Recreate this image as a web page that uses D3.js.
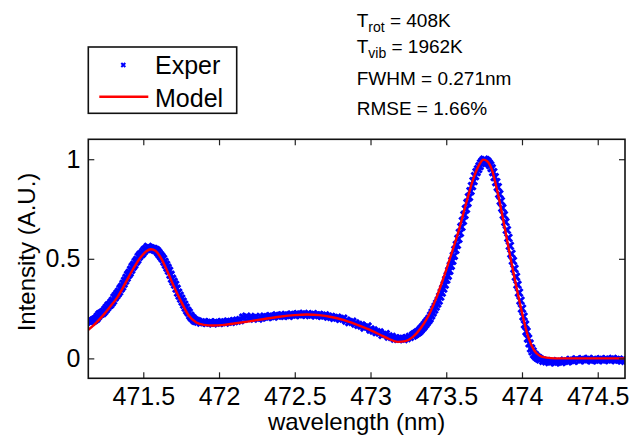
<!DOCTYPE html>
<html>
<head>
<meta charset="utf-8">
<script src="https://cdn.jsdelivr.net/npm/d3@7"></script>
<style>
  body { margin: 0; background: #fff; }
  svg { display: block; font-family: "Liberation Sans", Arial, sans-serif; }
</style>
</head>
<body>
<svg id="chart" width="631" height="438"></svg>
<script>
// ---------------------------
// Band fit: measured spectrum vs model
// ---------------------------

// experimental points [wavelength nm, intensity]
const experPoints = [
  [471.14,0.19],[471.16,0.185],[471.18,0.195],[471.20,0.21],[471.22,0.225],[471.24,0.235],
  [471.26,0.255],[471.28,0.27],[471.30,0.29],[471.32,0.315],[471.34,0.335],[471.36,0.36],
  [471.38,0.39],[471.40,0.42],[471.42,0.445],[471.44,0.47],[471.46,0.495],[471.48,0.52],
  [471.50,0.535],[471.52,0.55],[471.54,0.555],[471.56,0.55],[471.58,0.545],[471.60,0.53],
  [471.62,0.51],[471.64,0.485],[471.66,0.455],[471.68,0.42],[471.70,0.385],[471.72,0.35],
  [471.74,0.315],[471.76,0.285],[471.78,0.255],[471.80,0.23],[471.82,0.205],[471.84,0.19],
  [471.86,0.185],[471.88,0.18],[471.90,0.182],[471.92,0.178],[471.94,0.18],[471.96,0.176],
  [471.98,0.18],[472.00,0.178],[472.02,0.182],[472.04,0.18],[472.06,0.185],[472.08,0.183],
  [472.10,0.187],[472.12,0.19],[472.14,0.192],[472.16,0.205],[472.18,0.21],[472.20,0.2],
  [472.22,0.203],[472.24,0.208],[472.26,0.2],[472.28,0.205],[472.30,0.21],[472.32,0.207],
  [472.34,0.212],[472.36,0.21],[472.38,0.216],[472.40,0.213],[472.42,0.215],[472.44,0.218],
  [472.46,0.214],[472.48,0.22],[472.50,0.218],[472.52,0.222],[472.54,0.219],[472.56,0.223],
  [472.58,0.22],[472.60,0.218],[472.62,0.222],[472.64,0.216],[472.66,0.218],[472.68,0.214],
  [472.70,0.216],[472.72,0.21],[472.74,0.208],[472.76,0.203],[472.78,0.205],[472.80,0.198],
  [472.82,0.2],[472.84,0.19],[472.86,0.182],[472.88,0.184],[472.90,0.175],[472.92,0.168],
  [472.94,0.165],[472.96,0.155],[472.98,0.16],[473.00,0.145],[473.02,0.14],[473.04,0.132],
  [473.06,0.13],[473.08,0.118],[473.10,0.122],[473.12,0.11],[473.14,0.108],[473.16,0.1],
  [473.18,0.098],[473.20,0.1],[473.22,0.097],[473.24,0.102],[473.26,0.108],[473.28,0.115],
  [473.30,0.125],[473.32,0.135],[473.34,0.152],[473.36,0.17],[473.38,0.19],[473.40,0.215],
  [473.42,0.245],[473.44,0.275],[473.46,0.31],[473.48,0.35],[473.50,0.395],[473.52,0.44],
  [473.54,0.49],[473.56,0.545],[473.58,0.6],[473.60,0.66],[473.62,0.72],[473.64,0.78],
  [473.66,0.84],[473.68,0.89],[473.70,0.935],[473.72,0.965],[473.74,0.99],[473.76,0.995],
  [473.78,0.98],[473.80,0.955],[473.82,0.91],[473.84,0.86],[473.86,0.79],[473.88,0.72],
  [473.90,0.645],[473.92,0.565],[473.94,0.49],[473.96,0.41],[473.98,0.33],[474.00,0.25],
  [474.02,0.17],[474.04,0.1],[474.06,0.05],[474.08,0.02],[474.10,0.005],[474.12,-0.005],
  [474.14,-0.012],[474.16,-0.015],[474.18,-0.018],[474.20,-0.014],[474.22,-0.02],[474.24,-0.016],
  [474.26,-0.018],[474.28,-0.012],[474.30,-0.015],[474.32,-0.008],[474.34,-0.012],[474.36,-0.005],
  [474.38,-0.01],[474.40,-0.004],[474.42,-0.008],[474.44,-0.003],[474.46,-0.01],[474.48,-0.006],
  [474.50,-0.008],[474.52,-0.004],[474.54,-0.009],[474.56,-0.005],[474.58,-0.007],[474.60,-0.003],
  [474.62,-0.008],[474.64,-0.006],[474.66,-0.01],[474.68,-0.012],
  // finer sampling across the two peaks
  [471.15,0.186],[471.17,0.19],[471.19,0.2],[471.21,0.22],[471.23,0.228],[471.25,0.245],
  [471.27,0.265],[471.29,0.28],[471.31,0.305],[471.33,0.325],[471.35,0.35],[471.37,0.375],
  [471.39,0.405],[471.41,0.43],[471.43,0.46],[471.45,0.485],[471.47,0.51],[471.49,0.525],
  [471.51,0.545],[471.53,0.56],[471.55,0.552],[471.57,0.548],[471.59,0.54],[471.61,0.52],
  [471.63,0.5],[471.65,0.47],[471.67,0.44],[471.69,0.4],[471.71,0.37],[471.73,0.33],
  [471.75,0.3],[471.77,0.27],[471.79,0.24],[471.81,0.215],[471.83,0.198],[471.85,0.188],
  [473.29,0.12],[473.31,0.13],[473.33,0.143],[473.35,0.16],[473.37,0.18],[473.39,0.2],
  [473.41,0.23],[473.43,0.26],[473.45,0.29],[473.47,0.33],[473.49,0.37],[473.51,0.415],
  [473.53,0.465],[473.55,0.515],[473.57,0.57],[473.59,0.63],[473.61,0.69],[473.63,0.75],
  [473.65,0.81],[473.67,0.865],[473.69,0.915],[473.71,0.95],[473.73,0.98],[473.75,0.998],
  [473.77,0.99],[473.79,0.97],[473.81,0.935],[473.83,0.885],[473.85,0.825],[473.87,0.755],
  [473.89,0.685],[473.91,0.605],[473.93,0.525],[473.95,0.45],[473.97,0.37],[473.99,0.29],
  [474.01,0.21],[474.03,0.135],[474.05,0.075],[474.07,0.035],[474.09,0.012],[474.11,0.0]
];

// model curve [wavelength nm, intensity]
const modelPoints = [
  [471.137,0.143],[471.18,0.172],[471.23,0.212],[471.28,0.258],[471.33,0.308],[471.38,0.375],
  [471.43,0.445],[471.48,0.505],[471.52,0.538],[471.55,0.548],[471.58,0.54],[471.62,0.50],
  [471.66,0.435],[471.70,0.365],[471.75,0.285],[471.80,0.215],[471.85,0.18],[471.90,0.168],
  [471.96,0.165],[472.02,0.167],[472.10,0.175],[472.20,0.186],[472.30,0.198],[472.40,0.209],
  [472.50,0.217],[472.58,0.22],[472.66,0.217],[472.74,0.208],[472.82,0.193],[472.90,0.172],
  [472.98,0.148],[473.06,0.12],[473.12,0.098],[473.18,0.083],[473.23,0.087],[473.28,0.108],
  [473.33,0.15],[473.38,0.21],[473.43,0.295],[473.48,0.40],[473.53,0.515],[473.58,0.635],
  [473.63,0.775],[473.68,0.905],[473.72,0.975],[473.745,0.998],[473.77,0.99],[473.80,0.95],
  [473.84,0.83],[473.88,0.68],[473.92,0.52],[473.96,0.37],[474.00,0.23],[474.04,0.11],
  [474.08,0.04],[474.12,0.012],[474.16,0.004],[474.22,0.0],[474.40,0.0],[474.68,0.0]
];

const xTicks = [471.5, 472, 472.5, 473, 473.5, 474, 474.5];
const xTickLabels = ["471.5", "472", "472.5", "473", "473.5", "474", "474.5"];
const yTicks = [0, 0.5, 1];
const yTickLabels = ["0", "0.5", "1"];
const legendLabels = ["Exper", "Model"];
const fitResults = [
  { name: "T", sub: "rot", value: " = 408K" },
  { name: "T", sub: "vib", value: " = 1962K" },
  { name: "FWHM = 0.271nm", sub: null, value: "" },
  { name: "RMSE = 1.66%", sub: null, value: "" }
];

const svg = d3.select("#chart");
const plot = { left: 88.3, right: 625, top: 139.3, bottom: 378.3 };

const x = d3.scaleLinear().domain([471.137, 474.68]).range([plot.left, plot.right]);
const y = d3.scaleLinear().domain([-0.1, 1.1]).range([plot.bottom, plot.top]);

const g = svg.append("g");

// data first, box & ticks on top
svg.append("clipPath").attr("id", "clip")
  .append("rect")
  .attr("x", plot.left).attr("y", plot.top)
  .attr("width", plot.right - plot.left).attr("height", plot.bottom - plot.top);

const marks = g.append("g").attr("clip-path", "url(#clip)");
const ms = 3.6;
marks.append("g")
  .selectAll("path")
  .data(experPoints)
  .join("path")
  .attr("d", d => {
    const px = x(d[0]), py = y(d[1]);
    return `M${px - ms},${py - ms}L${px + ms},${py + ms}M${px - ms},${py + ms}L${px + ms},${py - ms}`;
  })
  .attr("stroke", "#0000ff")
  .attr("stroke-width", 3)
  .attr("fill", "none");

marks.append("path")
  .datum(modelPoints)
  .attr("d", d3.line().x(d => x(d[0])).y(d => y(d[1])).curve(d3.curveMonotoneX))
  .attr("fill", "none")
  .attr("stroke", "#ff0000")
  .attr("stroke-width", 2.4);

// axes (inward ticks on all four sides, MATLAB box)
const fontSize = 25;
const bottomAxis = g.append("g")
  .attr("transform", `translate(0,${plot.bottom})`)
  .call(d3.axisBottom(x).tickValues(xTicks).tickSizeInner(-6).tickSizeOuter(0)
    .tickFormat((d, i) => xTickLabels[i]));
bottomAxis.selectAll("text").attr("y", 26.5).attr("dy", 0);

g.append("g")
  .attr("transform", `translate(0,${plot.top})`)
  .call(d3.axisTop(x).tickValues(xTicks).tickSizeInner(-6).tickSizeOuter(0).tickFormat(""));

g.append("g")
  .attr("transform", `translate(${plot.left},0)`)
  .call(d3.axisLeft(y).tickValues(yTicks).tickSizeInner(-6).tickSizeOuter(0).tickPadding(8)
    .tickFormat((d, i) => yTickLabels[i]));

g.append("g")
  .attr("transform", `translate(${plot.right},0)`)
  .call(d3.axisRight(y).tickValues(yTicks).tickSizeInner(-6).tickSizeOuter(0).tickFormat(""));

g.selectAll(".domain").remove();
g.selectAll(".tick line").attr("stroke", "#222").attr("stroke-width", 1.2);
g.selectAll(".tick text")
  .attr("font-size", fontSize)
  .attr("font-family", "Liberation Sans, Arial, sans-serif")
  .attr("fill", "#000");

g.append("rect")
  .attr("x", plot.left).attr("y", plot.top)
  .attr("width", plot.right - plot.left).attr("height", plot.bottom - plot.top)
  .attr("fill", "none").attr("stroke", "#111").attr("stroke-width", 1.6);

// axis titles
svg.append("text")
  .attr("x", (plot.left + plot.right) / 2).attr("y", 430)
  .attr("text-anchor", "middle").attr("font-size", 24)
  .text("wavelength (nm)");

svg.append("text")
  .attr("transform", "translate(35,252) rotate(-90)")
  .attr("text-anchor", "middle").attr("font-size", 24)
  .text("Intensity (A.U.)");

// legend
const legend = svg.append("g");
legend.append("rect")
  .attr("x", 88.3).attr("y", 47).attr("width", 148.4).attr("height", 66.3)
  .attr("fill", "#fff").attr("stroke", "#111").attr("stroke-width", 1.6);
legend.append("path")
  .attr("d", `M${123.3 - 2},${65 - 2}L${123.3 + 2},${65 + 2}M${123.3 - 2},${65 + 2}L${123.3 + 2},${65 - 2}`)
  .attr("stroke", "#0000ff").attr("stroke-width", 2);
legend.append("line")
  .attr("x1", 99.3).attr("x2", 148.3).attr("y1", 96.7).attr("y2", 96.7)
  .attr("stroke", "#ff0000").attr("stroke-width", 2.4);
legend.selectAll("text.lab")
  .data(legendLabels)
  .join("text")
  .attr("class", "lab")
  .attr("x", 155).attr("y", (d, i) => i === 0 ? 74 : 106.7)
  .attr("font-size", 25)
  .text(d => d);

// fit results
const resY = [26.7, 53.3, 85, 115];
const res = svg.append("g").attr("font-size", 19);
fitResults.forEach((r, i) => {
  const t = res.append("text").attr("x", 356.7).attr("y", resY[i]);
  t.append("tspan").text(r.name);
  if (r.sub) {
    t.append("tspan").attr("font-size", 14).attr("dy", 5).text(r.sub);
    t.append("tspan").attr("dy", -5).text(r.value);
  }
});
</script>
</body>
</html>
